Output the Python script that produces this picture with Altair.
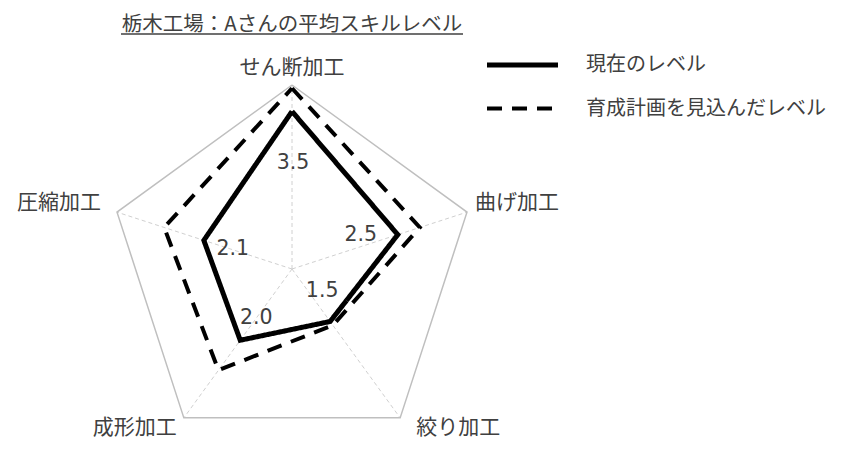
import altair as alt
import pandas as pd

# ---------------- data ----------------
TITLE = "栃木工場：Aさんの平均スキルレベル"
CATEGORIES = ["せん断加工", "曲げ加工", "絞り加工", "成形加工", "圧縮加工"]
SERIES = ["現在のレベル", "育成計画を見込んだレベル"]
CURRENT = [3.5, 2.5, 1.5, 2.0, 2.1]
PLANNED = [4.0, 3.0, 1.6, 2.8, 3.0]
LABELS = ["3.5", "2.5", "1.5", "2.0", "2.1"]

# ---------------- layout / style ----------------
FONT = "Noto Sans CJK JP"
NUMFONT = "DejaVu Sans"
TXT = "#404040"
W, H = 834, 440
CX, CY, R = 284, 261, 184          # centre and radius of the radar in plot pixels
XMIN, XMAX = -CX / R, (W - CX) / R
YMIN, YMAX = -(H - CY) / R, CY / R
RMIN, RMAX = 0.1, 4.07
N = len(CATEGORIES)

xs = alt.Scale(domain=[XMIN, XMAX], nice=False, zero=False)
ys = alt.Scale(domain=[YMIN, YMAX], nice=False, zero=False)

rows = []
for s, vals in zip(SERIES, [CURRENT, PLANNED]):
    for i in range(N + 1):
        k = i % N
        rows.append({"series": s, "idx": i, "category": CATEGORIES[k],
                     "value": vals[k], "label": LABELS[k] if s == SERIES[0] else ""})
df = pd.DataFrame(rows)

grid = pd.DataFrame({"idx": list(range(N + 1)),
                     "category": [CATEGORIES[i % N] for i in range(N + 1)]})

ANG = f"datum.idx * 2 * PI / {N}"

base = alt.Chart(df).transform_calculate(
    r=f"(datum.value - {RMIN}) / ({RMAX} - {RMIN})"
).transform_calculate(
    x=f"datum.r * sin({ANG})", y=f"datum.r * cos({ANG})"
)

gbase = alt.Chart(grid).transform_calculate(
    gx=f"sin({ANG})", gy=f"cos({ANG})", zero="0"
)

outer = gbase.mark_line(color="#bfbfbf", strokeWidth=1.5, strokeJoin="miter").encode(
    x=alt.X("gx:Q", scale=xs, axis=None),
    y=alt.Y("gy:Q", scale=ys, axis=None),
    order="idx:Q",
)

spokes = gbase.transform_filter(f"datum.idx < {N}").mark_rule(
    color="#d0d0d0", strokeWidth=1, strokeDash=[4, 3]
).encode(
    x=alt.X("zero:Q", scale=xs, axis=None),
    y=alt.Y("zero:Q", scale=ys, axis=None),
    x2="gx:Q",
    y2="gy:Q",
)

lines = base.mark_line(color="black", strokeJoin="miter").encode(
    x=alt.X("x:Q", scale=xs, axis=None),
    y=alt.Y("y:Q", scale=ys, axis=None),
    order="idx:Q",
    detail="series:N",
    strokeDash=alt.StrokeDash("series:N", scale=alt.Scale(domain=SERIES, range=[[1, 0], [15, 10]]), legend=None),
    strokeWidth=alt.StrokeWidth("series:N", scale=alt.Scale(domain=SERIES, range=[5, 4]), legend=None),
)

# category labels at the outer vertices
CAT_STYLE = [("center", 0, -17), ("left", 8, -9), ("left", 16, 10), ("right", -7, 10), ("right", -16, -9)]
cat_layers = []
for i, (al, dx, dy) in enumerate(CAT_STYLE):
    cat_layers.append(
        gbase.transform_filter(f"datum.idx == {i}").mark_text(
            font=FONT, fontSize=21, color=TXT, align=al, baseline="middle", dx=dx, dy=dy
        ).encode(
            x=alt.X("gx:Q", scale=xs, axis=None),
            y=alt.Y("gy:Q", scale=ys, axis=None),
            text="category:N",
        )
    )

# value labels of the current level
LBL_OFF = [(1, 52), (-37, 0), (-8, -30), (16, -22), (29, 9)]
val_layers = []
for i, (dx, dy) in enumerate(LBL_OFF):
    val_layers.append(
        base.transform_filter(f"datum.idx == {i} && datum.series == '{SERIES[0]}'").mark_text(
            font=NUMFONT, fontSize=20.5, color=TXT, align="center", baseline="middle", dx=dx, dy=dy
        ).encode(
            x=alt.X("x:Q", scale=xs, axis=None),
            y=alt.Y("y:Q", scale=ys, axis=None),
            text="label:N",
        )
    )

# title with underline
title = alt.Chart(alt.Data(values=[{"t": TITLE}])).mark_text(
    font=FONT, fontSize=20.5, color=TXT, align="center", baseline="middle"
).encode(x=alt.value(284), y=alt.value(17), text="t:N")
underline = alt.Chart(alt.Data(values=[{"t": TITLE}])).mark_rule(
    color=TXT, strokeWidth=1.5
).encode(x=alt.value(113), x2=alt.value(455), y=alt.value(26))

# legend
leg_layers = []
LEG_DASH = [[1, 0], [15, 10]]
LEG_W = [5, 4]
LEG_X2 = [550, 545]
for i, s in enumerate(SERIES):
    yy = 57 + 43.5 * i
    d = alt.Data(values=[{"s": s}])
    leg_layers.append(alt.Chart(d).mark_rule(
        color="black", strokeWidth=LEG_W[i], strokeDash=LEG_DASH[i]
    ).encode(x=alt.value(479), x2=alt.value(LEG_X2[i]), y=alt.value(yy)))
    leg_layers.append(alt.Chart(d).mark_text(
        font=FONT, fontSize=20, color=TXT, align="left", baseline="middle"
    ).encode(x=alt.value(578), y=alt.value(yy), text="s:N"))

chart = alt.layer(
    spokes, outer, lines, *cat_layers, *val_layers, title, underline, *leg_layers
).properties(
    width=W, height=H, padding=0, autosize=alt.AutoSizeParams(type="none")
).configure_view(stroke=None)

chart.save("out.html", embed_options={"renderer": "svg", "actions": False})
